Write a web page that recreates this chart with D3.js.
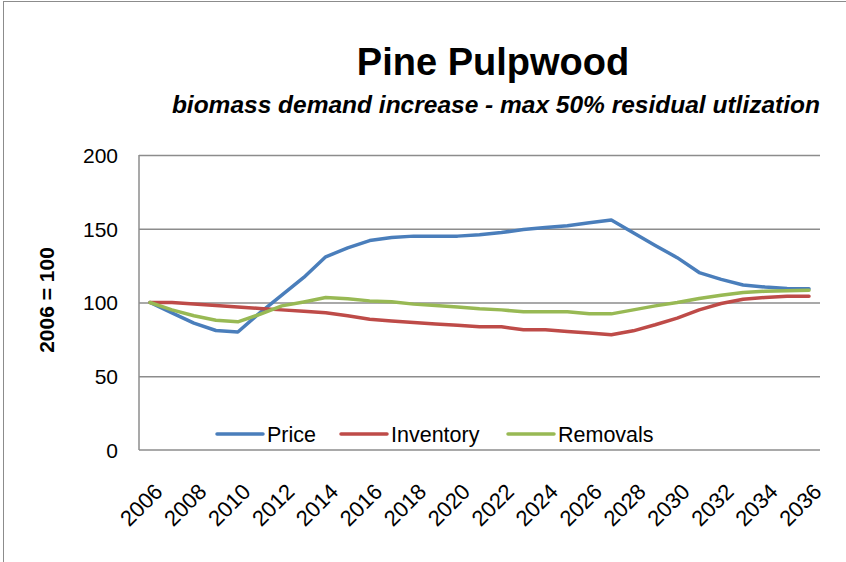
<!DOCTYPE html>
<html>
<head>
<meta charset="utf-8">
<script src="https://cdn.jsdelivr.net/npm/d3@7"></script>
<style>
  body { margin: 0; background: #fff; }
  text { font-family: "Liberation Sans Narrow", "Liberation Sans", Arial, sans-serif; fill: #000; }
</style>
</head>
<body>
<svg id="chart" width="846" height="562"></svg>
<script>
// years on the category axis
const years = d3.range(2006, 2037);
const yTicks = [0, 50, 100, 150, 200];

// series values, index 2006 = 100
const price = [100, 93, 86, 81, 80, 93, 105, 117, 131, 137, 142, 144, 145, 145, 145, 146, 147.4, 149.5, 150.8, 152, 154, 156,
  147.3, 138.7, 130.4, 120.3, 115.7, 111.9, 110.5, 109.5, 109.3];
const inventory = [100, 100, 99, 98, 97, 96, 95, 94, 93, 91, 88.7, 87.5, 86.5, 85.5, 84.5, 83.5, 83.5, 81.5, 81.5, 80.4, 79.3, 78.2,
  80.8, 84.9, 89.4, 95, 99.3, 102.2, 103.4, 104.3, 104.3];
const removals = [100, 95, 91, 88, 86.9, 92, 97.7, 100.4, 103.4, 102.5, 101.1, 100.5, 98.9, 98, 97, 95.8, 95, 93.7, 93.7, 93.7, 92.3, 92.3,
  95, 97.7, 100, 102.7, 104.9, 106.8, 107.6, 108, 108.3];

const seriesNames = ["Price", "Inventory", "Removals"];
const seriesColors = ["#4a7ebb", "#be4b48", "#98b954"];
const seriesData = [price, inventory, removals];

const svg = d3.select("#chart");

const plotLeft = 139, plotRight = 820, plotTop = 155, plotBottom = 450;

const x = d3.scaleBand().domain(years).range([plotLeft, plotRight]);
const cx = d => x(d) + x.bandwidth() / 2;
const y = d3.scaleLinear().domain([0, 200]).range([plotBottom, plotTop]);

// outer frame
svg.append("rect")
  .attr("x", 3.5).attr("y", 1.5)
  .attr("width", 900).attr("height", 700)
  .attr("fill", "none").attr("stroke", "#8c8c8c").attr("stroke-width", 1);

// gridlines
svg.append("g")
  .attr("transform", `translate(${plotLeft},0)`)
  .call(d3.axisLeft(y).tickValues(yTicks.slice(1)).tickSize(-(plotRight - plotLeft)).tickFormat(""))
  .call(g => g.select(".domain").remove())
  .call(g => g.selectAll("line").attr("stroke", "#8c8c8c").attr("stroke-width", 1.3));

// y axis labels
svg.append("g")
  .attr("transform", `translate(${plotLeft},0)`)
  .call(d3.axisLeft(y).tickValues(yTicks).tickSize(0).tickPadding(21))
  .call(g => g.select(".domain").remove())
  .call(g => g.selectAll("text").style("font-size", "21px").attr("dy", "0.35em"));

// x axis labels
const xAxis = svg.append("g")
  .attr("transform", `translate(0,${plotBottom})`)
  .call(d3.axisBottom(x).tickValues(years.filter(d => d % 2 === 0)).tickSize(0))
  .call(g => g.select(".domain").remove());
xAxis.selectAll("text")
  .style("font-size", "22px")
  .attr("text-anchor", "end")
  .attr("dy", null)
  .attr("y", 0)
  .attr("transform", "translate(14,43) rotate(-45)");

// axis lines
svg.append("line")
  .attr("x1", plotLeft).attr("x2", plotLeft).attr("y1", plotTop).attr("y2", plotBottom)
  .attr("stroke", "#8c8c8c").attr("stroke-width", 1.5);
svg.append("line")
  .attr("x1", plotLeft).attr("x2", plotRight).attr("y1", plotBottom).attr("y2", plotBottom)
  .attr("stroke", "#8c8c8c").attr("stroke-width", 1.5);

// series lines
const line = d3.line().x((d, i) => cx(years[i])).y(d => y(d));
seriesData.forEach((s, i) => {
  svg.append("path")
    .datum(s)
    .attr("d", line)
    .attr("fill", "none")
    .attr("stroke", seriesColors[i])
    .attr("stroke-width", 3.5)
    .attr("stroke-linejoin", "round")
    .attr("stroke-linecap", "round");
});

// legend
const legendX = [217, 341, 508];
const legend = svg.append("g");
seriesNames.forEach((n, i) => {
  legend.append("line")
    .attr("x1", legendX[i]).attr("x2", legendX[i] + 46)
    .attr("y1", 434).attr("y2", 434)
    .attr("stroke", seriesColors[i]).attr("stroke-width", 3.5).attr("stroke-linecap", "round");
  legend.append("text")
    .attr("x", legendX[i] + 50).attr("y", 442)
    .style("font-size", "21.5px")
    .text(n);
});

// titles
svg.append("text")
  .attr("x", 493).attr("y", 75)
  .attr("text-anchor", "middle")
  .style("font-size", "38px").style("font-weight", "bold")
  .text("Pine Pulpwood");
svg.append("text")
  .attr("x", 820).attr("y", 113)
  .attr("text-anchor", "end")
  .style("font-size", "24.5px").style("font-weight", "bold").style("font-style", "italic")
  .text("biomass demand increase - max 50% residual utlization");

// y axis title
svg.append("text")
  .attr("transform", "translate(54,300) rotate(-90)")
  .attr("text-anchor", "middle")
  .style("font-size", "21px").style("font-weight", "bold")
  .text("2006 = 100");
</script>
</body>
</html>
